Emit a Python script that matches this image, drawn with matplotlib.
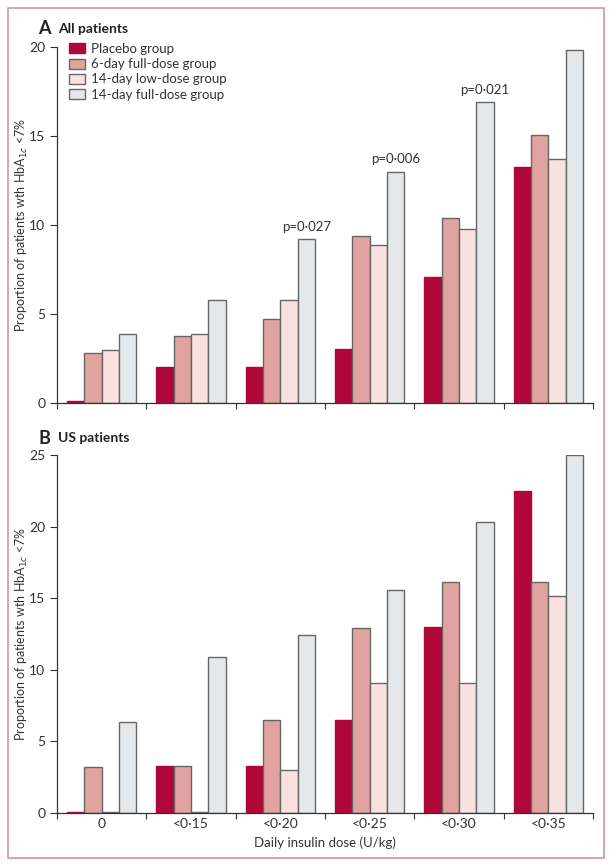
import numpy as np
import matplotlib.pyplot as plt
from matplotlib.patches import Rectangle, Patch

plt.rcParams['font.family'] = ['Lato', 'DejaVu Sans']

# dose categories on the x axis
doses = ["0", "<0·15", "<0·20", "<0·25", "<0·30", "<0·35"]
groups = ["Placebo group", "6-day full-dose group", "14-day low-dose group", "14-day full-dose group"]
colors = ["#B0073A", "#E0A3A0", "#F8E1DF", "#E5E8EA"]

# panel A - all patients
all_placebo = [0.1, 2.05, 2.05, 3.03, 7.1, 13.25]
all_6day = [2.8, 3.75, 4.7, 9.4, 10.4, 15.07]
all_14low = [3.0, 3.9, 5.8, 8.85, 9.76, 13.73]
all_14full = [3.85, 5.8, 9.2, 13.0, 16.9, 19.83]
all_pvals = {2: "p=0·027", 3: "p=0·006", 4: "p=0·021"}

# panel B - US patients
us_placebo = [0.1, 3.27, 3.27, 6.48, 12.96, 22.5]
us_6day = [3.24, 3.27, 6.48, 12.9, 16.1, 16.1]
us_14low = [0.1, 0.1, 2.98, 9.07, 9.07, 15.15]
us_14full = [6.32, 10.9, 12.45, 15.6, 20.3, 25.0]

fig = plt.figure(figsize=(6.12, 8.66), dpi=100)
fig.patches.append(Rectangle((8 / 612, 1 - 858 / 866), 596 / 612, 850 / 866,
                             transform=fig.transFigure, fill=False,
                             edgecolor="#D98FAB", linewidth=1.2))

axA = fig.add_axes([57 / 612, 1 - 403 / 866, 536 / 612, 356 / 866])
axB = fig.add_axes([57 / 612, 1 - 813 / 866, 536 / 612, 358 / 866])

width = 0.194
x = np.arange(len(doses))


def draw(ax, series, ymax, yticks):
    for k, vals in enumerate(series):
        pos = x + 0.5 + (k - 1.5) * width
        ec = colors[0] if k == 0 else "#666666"
        ax.bar(pos, vals, width, color=colors[k], edgecolor=ec, linewidth=1.0)
    ax.set_xlim(0, 6)
    ax.set_ylim(0, ymax)
    ax.set_yticks(yticks)
    ax.set_xticks(np.arange(7))
    ax.set_xticklabels([])
    ax.set_xticks(x + 0.5, minor=True)
    ax.tick_params(axis="x", which="major", length=4, width=0.8, color="#333333")
    ax.tick_params(axis="x", which="minor", length=0, labelsize=10, colors="#333333")
    ax.tick_params(axis="y", length=5, width=0.8, labelsize=10, colors="#333333")
    for s in ["top", "right"]:
        ax.spines[s].set_visible(False)
    for s in ["left", "bottom"]:
        ax.spines[s].set_color("#333333")
        ax.spines[s].set_linewidth(0.9)
    ax.set_ylabel("Proportion of patients wth HbA$_{1c}$ <7%", fontsize=9, color="#333333")
    ax.yaxis.set_label_coords(-0.05, 0.5)


draw(axA, [all_placebo, all_6day, all_14low, all_14full], 20, [0, 5, 10, 15, 20])
draw(axB, [us_placebo, us_6day, us_14low, us_14full], 25, [0, 5, 10, 15, 20, 25])

axB.set_xticklabels(doses, minor=True)
axB.set_xlabel("Daily insulin dose (U/kg)", fontsize=9.5, color="#333333", labelpad=5)

for i, txt in all_pvals.items():
    axA.text(i + 0.5 + 1.5 * width, all_14full[i] + 0.35, txt, ha="center", va="bottom",
             fontsize=9.5, color="#333333")

handles = [Patch(facecolor=colors[k], edgecolor=colors[0] if k == 0 else "#666666") for k in range(4)]
axA.legend(handles, groups, loc="upper left", bbox_to_anchor=(0.0, 1.045), frameon=False,
           fontsize=9.5, handlelength=1.2, handleheight=0.8, handletextpad=0.5,
           labelspacing=0.25, labelcolor="#333333")

fig.text(38 / 612, 1 - 29 / 866, "A", fontsize=13, fontweight="bold", va="center", color="#222222")
fig.text(58 / 612, 1 - 29 / 866, "All patients", fontsize=10, fontweight="bold", va="center", color="#222222")
fig.text(38 / 612, 1 - 438 / 866, "B", fontsize=13, fontweight="bold", va="center", color="#222222")
fig.text(58 / 612, 1 - 438 / 866, "US patients", fontsize=10, fontweight="bold", va="center", color="#222222")

fig.savefig("out.png", dpi=100)
